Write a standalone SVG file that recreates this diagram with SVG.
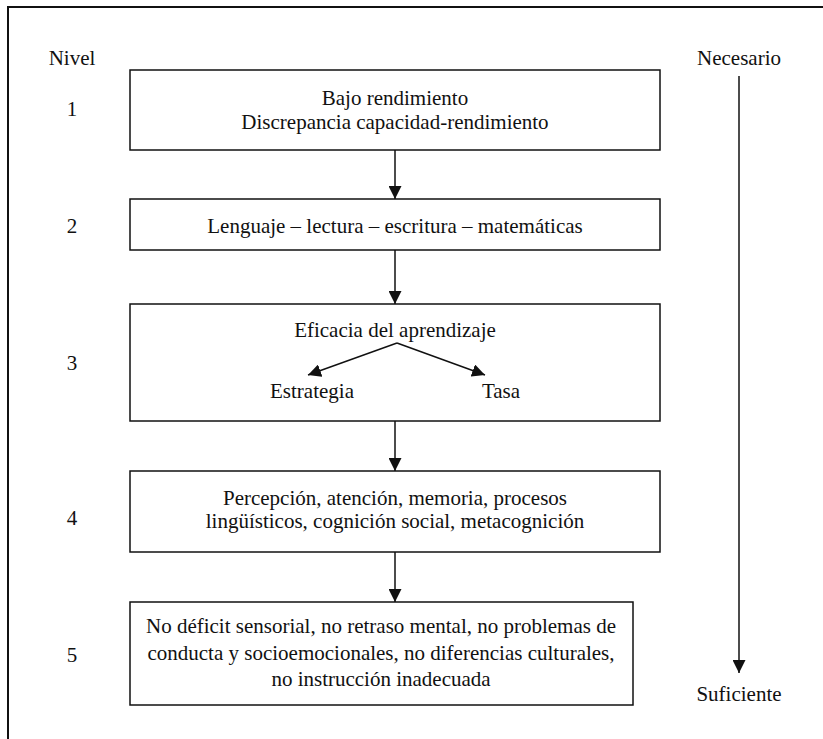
<svg xmlns="http://www.w3.org/2000/svg" width="823" height="739" viewBox="0 0 823 739">
  <style>
    text { font-family: "Liberation Serif", "DejaVu Serif", "Times New Roman", serif; font-size: 21px; fill: #111; text-anchor: middle; }
    .box { fill: #fff; stroke: #111; stroke-width: 1.5; }
    .line { stroke: #111; stroke-width: 1.5; fill: none; }
    .frame { stroke: #111; stroke-width: 2; fill: none; }
  </style>
  <defs>
    <marker id="arrow" viewBox="0 0 12 12" refX="12" refY="6" markerWidth="13" markerHeight="13" markerUnits="userSpaceOnUse" orient="auto">
      <path d="M0,0 L12,6 L0,12 Z" fill="#111"/>
    </marker>
  </defs>
  <rect width="823" height="739" fill="#fff"/>
  <!-- outer frame: top and left edges -->
  <path class="frame" d="M8,739 V7 H823"/>

  <g id="labels-left">
    <text x="72" y="65">Nivel</text>
    <text x="72" y="116">1</text>
    <text x="72" y="233">2</text>
    <text x="72" y="370">3</text>
    <text x="72" y="525">4</text>
    <text x="72" y="662">5</text>
  </g>
  <g id="labels-right">
    <text x="739" y="65">Necesario</text>
    <text x="739" y="701">Suficiente</text>
  </g>

  <g id="node1">
    <rect class="box" x="130" y="70" width="530" height="80"/>
    <text x="395" y="105">Bajo rendimiento</text>
    <text x="395" y="129">Discrepancia capacidad-rendimiento</text>
  </g>
  <g id="node2">
    <rect class="box" x="130" y="199" width="530" height="51"/>
    <text x="395" y="233">Lenguaje – lectura – escritura – matemáticas</text>
  </g>
  <g id="node3">
    <rect class="box" x="130" y="304" width="530" height="117"/>
    <text x="395" y="337">Eficacia del aprendizaje</text>
    <text x="312" y="398">Estrategia</text>
    <text x="501" y="398">Tasa</text>
  </g>
  <g id="node4">
    <rect class="box" x="130" y="471" width="530" height="81"/>
    <text x="395" y="505">Percepción, atención, memoria, procesos</text>
    <text x="395" y="528">lingüísticos, cognición social, metacognición</text>
  </g>
  <g id="node5">
    <rect class="box" x="130" y="602" width="503" height="103"/>
    <text x="381" y="633">No déficit sensorial, no retraso mental, no problemas de</text>
    <text x="381" y="660">conducta y socioemocionales, no diferencias culturales,</text>
    <text x="381" y="686">no instrucción inadecuada</text>
  </g>

  <g id="connectors">
    <line class="line" x1="395" y1="150" x2="395" y2="199" marker-end="url(#arrow)"/>
    <line class="line" x1="395" y1="250" x2="395" y2="304" marker-end="url(#arrow)"/>
    <line class="line" x1="395" y1="421" x2="395" y2="471" marker-end="url(#arrow)"/>
    <line class="line" x1="395" y1="552" x2="395" y2="602" marker-end="url(#arrow)"/>
    <line class="line" x1="397" y1="343" x2="308" y2="375" marker-end="url(#arrow)"/>
    <line class="line" x1="397" y1="343" x2="485" y2="375" marker-end="url(#arrow)"/>
    <line class="line" x1="739" y1="76" x2="739" y2="673" marker-end="url(#arrow)"/>
  </g>
</svg>
